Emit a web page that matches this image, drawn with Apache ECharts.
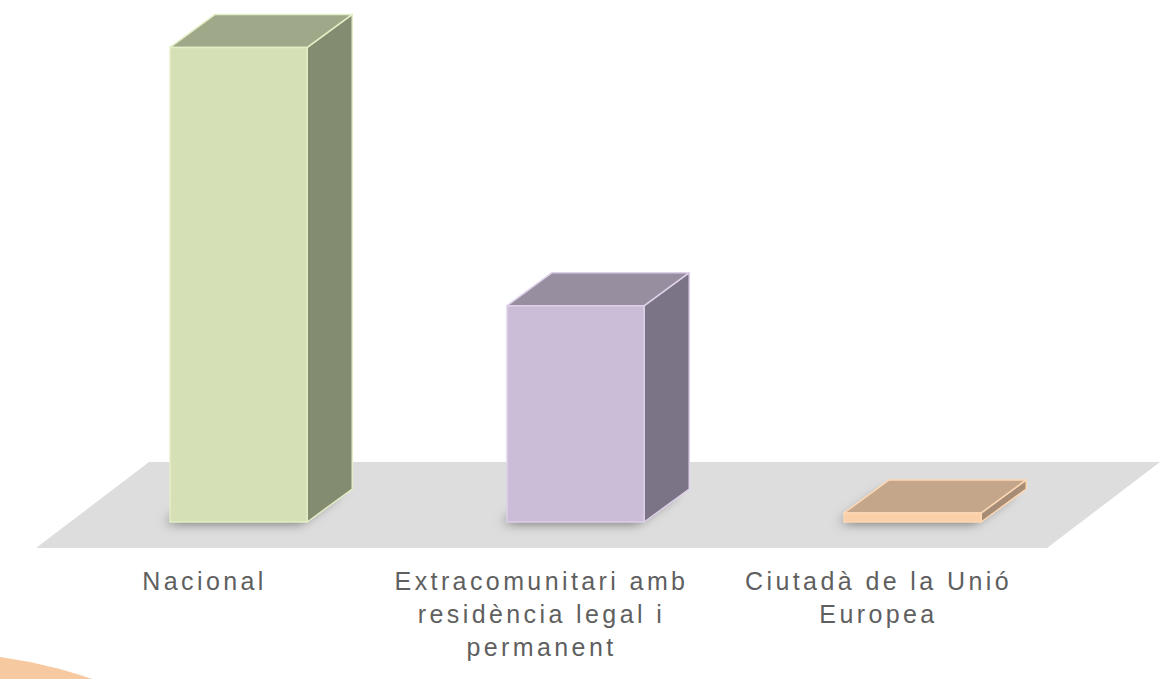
<!DOCTYPE html>
<html>
<head>
<meta charset="utf-8">
<script src="https://cdn.jsdelivr.net/npm/echarts@6/dist/echarts.min.js"></script>
<style>
  html, body { margin: 0; padding: 0; background: #ffffff; }
  #chart { width: 1165px; height: 679px; }
  #chart text { letter-spacing: 3.4px; }
</style>
</head>
<body>
<div id="chart"></div>
<script>
// ---- data ----
const categories = ['Nacional', 'Extracomunitari amb residència legal i permanent', 'Ciutadà de la Unió Europea'];
const tickLabels = ['Nacional', 'Extracomunitari amb\nresidència legal i\npermanent', 'Ciutadà de la Unió\nEuropea'];
const values = [67.8, 30.9, 1.3];

// ---- styles ----
const frontColors = ['#d6e0b7', '#cbbdd7', '#fbd0a9'];
const topColors   = ['#9fa989', '#978ea0', '#c4a68a'];
const sideColors  = ['#838c70', '#7b7386', '#a88d76'];
const edgeColors  = ['#e4eec6', '#ddd0e8', '#fdd8b5'];
const floorColor = '#dddddd';

// 3D projection (pixels)
const DX = 113, FLOOR_FRONT = 26, FLOOR_BACK = 60;   // floor depth geometry
const BAR_DX = 45, BAR_DY = 33, BAR_WIDTH_RATIO = 0.407;
const BAR_SHIFT = FLOOR_FRONT * DX / (FLOOR_FRONT + FLOOR_BACK);

const chart = echarts.init(document.getElementById('chart'), null, { renderer: 'svg' });

function renderFloor(params, api) {
  const c0 = api.coord([0, 0]);
  const band = api.size([1, 0])[0];
  const L = c0[0] - band / 2;
  const R = L + band * categories.length;
  const yF = c0[1] + FLOOR_FRONT;
  const yB = c0[1] - FLOOR_BACK;
  return {
    type: 'polygon',
    shape: { points: [[L, yF], [R, yF], [R + DX, yB], [L + DX, yB]] },
    style: { fill: floorColor },
    silent: true
  };
}

function renderBar(params, api) {
  const i = api.value(0);
  const v = api.value(1);
  const base = api.coord([i, 0]);
  const top = api.coord([i, v]);
  const band = api.size([1, 0])[0];
  const w = band * BAR_WIDTH_RATIO;
  const cx = base[0] + BAR_SHIFT;
  const x0 = cx - w / 2, x1 = cx + w / 2;
  const yb = base[1], yt = top[1];
  const edge = { stroke: edgeColors[i], lineWidth: 1.5, lineJoin: 'round' };
  return {
    type: 'group',
    children: [
      {
        type: 'polygon',
        shape: { points: [[x0 + 2, yb - 2], [x1, yb - 2], [x1 + BAR_DX - 4, yb - BAR_DY], [x0 + BAR_DX, yb - BAR_DY]] },
        style: { fill: 'rgba(90,90,90,0.9)', shadowBlur: 12, shadowColor: 'rgba(0,0,0,0.6)', shadowOffsetX: -7, shadowOffsetY: 3 }
      },
      {
        type: 'polygon',
        shape: { points: [[x1, yt], [x1 + BAR_DX, yt - BAR_DY], [x1 + BAR_DX, yb - BAR_DY], [x1, yb]] },
        style: Object.assign({ fill: sideColors[i] }, edge)
      },
      {
        type: 'polygon',
        shape: { points: [[x0, yt], [x1, yt], [x1 + BAR_DX, yt - BAR_DY], [x0 + BAR_DX, yt - BAR_DY]] },
        style: Object.assign({ fill: topColors[i] }, edge)
      },
      {
        type: 'rect',
        shape: { x: x0, y: yt, width: w, height: yb - yt },
        style: Object.assign({ fill: frontColors[i] }, edge)
      }
    ]
  };
}

chart.setOption({
  animation: false,
  backgroundColor: '#ffffff',
  grid: { left: 36, right: 118, top: 32, bottom: 157 },
  xAxis: {
    type: 'category',
    data: categories,
    axisLine: { show: false },
    axisTick: { show: false },
    splitLine: { show: false },
    axisLabel: {
      interval: 0,
      margin: 42,
      fontFamily: '"Liberation Sans", Arial, sans-serif',
      fontSize: 25,
      lineHeight: 33,
      color: '#5f5f5f',
      verticalAlign: 'top',
      formatter: function (val, idx) { return tickLabels[idx]; }
    }
  },
  yAxis: {
    type: 'value',
    min: 0,
    max: 70,
    show: false,
    splitLine: { show: false }
  },
  graphic: [
    {
      type: 'polygon',
      shape: { points: [[0, 657], [30, 662], [60, 669], [80, 675], [92, 679], [0, 679]] },
      style: { fill: '#f7c9a0' },
      z: -1
    }
  ],
  series: [
    {
      type: 'custom',
      renderItem: renderFloor,
      data: [[0, 0]],
      encode: { x: 0, y: 1 },
      z: 1,
      silent: true
    },
    {
      type: 'custom',
      renderItem: renderBar,
      data: values.map(function (v, i) { return [i, v]; }),
      encode: { x: 0, y: 1 },
      z: 2,
      silent: true
    }
  ]
});
</script>
</body>
</html>
